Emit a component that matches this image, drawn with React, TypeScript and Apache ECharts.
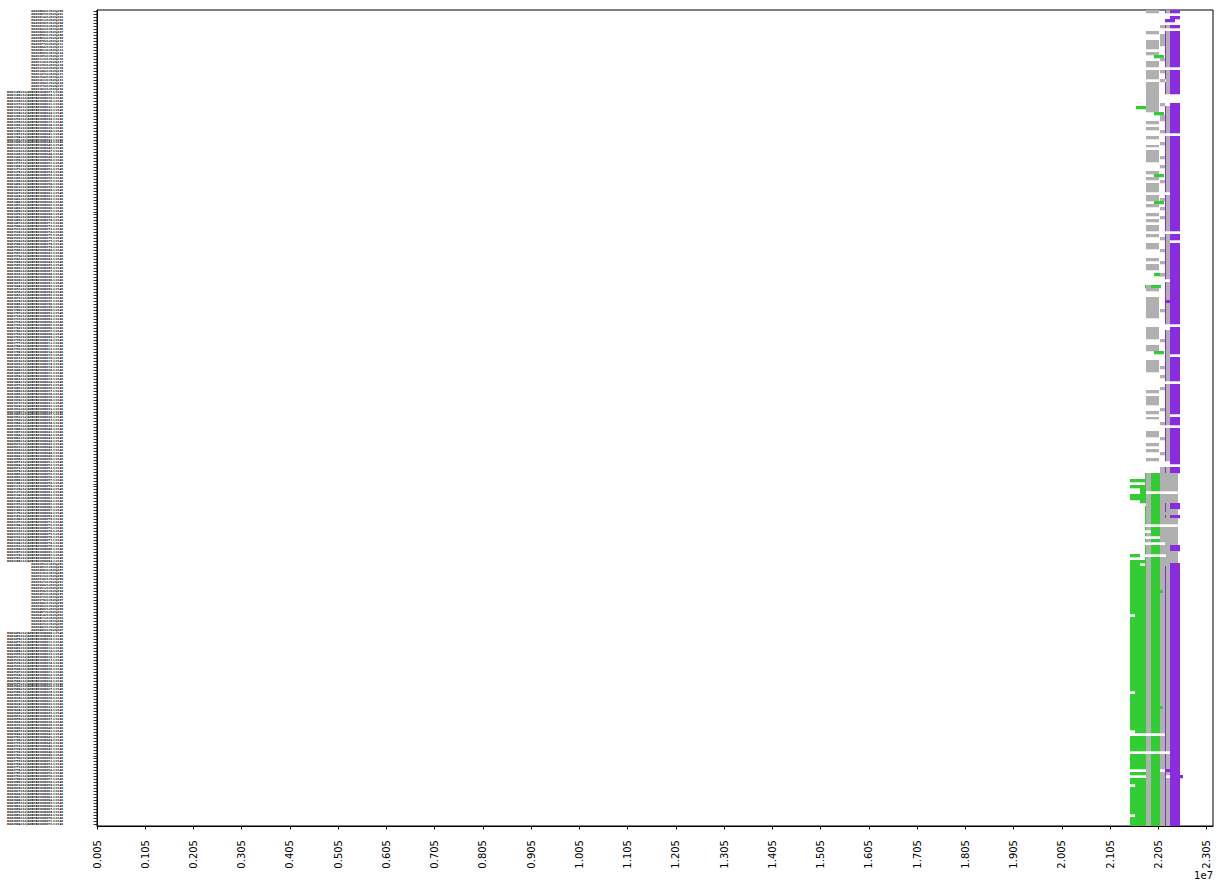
import React, { useEffect, useRef } from "react";
import * as echarts from "echarts";

// ---------------- data ----------------
const X_MIN = 50000;
const X_MAX = 23185000;
const X_TICKS = [
  50000, 1050000, 2050000, 3050000, 4050000, 5050000, 6050000, 7050000,
  8050000, 9050000, 10050000, 11050000, 12050000, 13050000, 14050000,
  15050000, 16050000, 17050000, 18050000, 19050000, 20050000, 21050000,
  22050000, 23050000,
];
const X_TICK_LABELS = [
  "0.005", "0.105", "0.205", "0.305", "0.405", "0.505", "0.605", "0.705",
  "0.805", "0.905", "1.005", "1.105", "1.205", "1.305", "1.405", "1.505",
  "1.605", "1.705", "1.805", "1.905", "2.005", "2.105", "2.205", "2.305",
];
const X_OFFSET_LABEL = "1e7";

// segment catalogue (genomic start / end, kind)
const SEGMENT_CODES = ["A", "B", "l", "c", "P", "G", "g", "H", "W", "x", "y", "Q", "R", "z", "n", "h", "k", "K", "V", "U", "o", "e"];
const SEGMENT_START = [21796000, 22086000, 22190000, 22211000, 22293000, 21464000, 21796000, 21899000, 22086000, 21961000, 21588000, 22190000, 22190000, 21775000, 21775000, 21671000, 21464000, 21568000, 22190000, 22211000, 22086000, 22293000];
const SEGMENT_END = [22065000, 22190000, 22211000, 22293000, 22501000, 21796000, 21899000, 22086000, 22459000, 22169000, 21796000, 22397000, 22501000, 22107000, 21796000, 21796000, 21671000, 21796000, 22459000, 22459000, 22148000, 22563000];
const SEGMENT_KIND = ["grey", "grey", "purple", "grey", "purple", "green", "grey", "green", "grey", "green", "green", "purple", "purple", "green", "green", "green", "green", "green", "grey", "grey", "green", "purple"];

// rows, top to bottom: [repeat count, segments present]
const TOP_ROWS: [number, string][] = [
  [1, "AlcP"], [1, ""], [1, "P"], [1, "Q"], [1, ""], [1, "BlcP"], [1, ""], [1, "AlcP"],
  [2, "BlcP"], [2, "ABlcP"], [1, "AlcP"], [1, "lcP"], [1, "AlcP"], [1, "xlcP"], [1, "BlcP"],
  [2, "AlcP"], [1, ""], [1, "ABlcP"], [2, "AlcP"], [1, "BcP"], [4, "AlcP"], [3, "A"], [1, "ABP"],
  [1, "AylcP"], [1, "AlcP"], [1, "xlcP"], [1, "BlcP"],
  // rows 36..
  [1, "BlcP"], [1, "AlcP"], [1, "lcP"], [1, "AlcP"], [1, "BlcP"], [1, ""], [1, "AlcP"], [1, "lcP"],
  [1, "BlcP"], [1, "AlcP"], [1, "lcP"], [2, "AlcP"], [1, "ABlcP"], [1, "AlcP"], [1, "lcP"],
  [1, "BlcP"], [1, "lcP"], [1, "AlcP"], [1, "xlcP"], [1, "AlcP"], [1, "BlcP"], [3, "AlcP"],
  [1, "P"], [1, "AlcP"], [1, "ABlcP"], [1, "xlcP"], [1, "AlcP"], [1, "BlcP"], [1, "lcP"],
  [1, "AlcP"], [1, "BlcP"], [1, "AlcP"], [1, "lcP"], [2, "AlcP"], [1, ""], [1, "AlcP"],
  [1, "BlcP"], [1, "lc"], [2, "AlcP"], [1, "BlcP"], [2, "lcP"], [1, "AlcP"], [1, "BlcP"],
  [2, "AlcP"], [1, "lcP"], [1, "xBlcP"], [1, "lcP"], [1, "P"], [1, "lcP"], [1, "zglcP"],
  [1, "AlcP"], [2, "lcP"], [1, "AlcP"], [1, "AR"], [2, "AlcP"], [1, "ABlcP"], [2, "AlcP"],
  [2, "lcP"], [1, ""], [1, "AP"], [3, "AlcP"], [1, "BlcP"], [1, "lcP"], [2, "AlcP"], [1, "xlcP"],
  [1, "lc"], [1, "lcP"], [2, "AlcP"], [1, "ABlcP"], [1, "AlcP"], [1, "lcP"], [1, "BlcP"],
  [1, "lcP"], [1, ""], [1, "lcP"], [1, "BlcP"], [1, "AlcP"], [1, "lcP"], [3, "AlcP"], [1, "lcP"],
  [1, "BlcP"], [1, "AlcP"], [1, "lc"], [1, "AlcP"], [1, "lcP"], [1, "BlcP"], [1, ""], [1, "lcP"],
  [2, "AlcP"], [1, "BlcP"], [1, "lcP"], [1, "AlcP"], [1, "lcP"], [1, "AlcP"], [1, "BlcP"],
  [1, "lcP"], [1, "AlcP"], [1, "P"], [1, ""], [2, "BlcP"],
];
const MIDDLE_ROWS: [number, string][] = [
  [2, "ngHW"], [1, "GgHW"], [1, "ngHW"], [1, "GgHW"], [1, "hgHW"], [1, "h"], [2, "GgHW"],
  [1, "hgHW"], [1, "gHWlP"], [1, "ngHWlP"], [1, "ngHWl"], [1, "ngHW"], [1, "ngHWlP"],
  [2, "ngHW"], [1, ""], [1, "ngHW"], [1, "HW"], [1, "ngHW"], [1, "W"], [1, "ngHW"], [1, "V"],
  [2, "ngHWP"], [1, "ngHW"], [1, "kU"], [1, "ngHW"], [1, "GgHW"], [1, "kngHWP"],
];
const BOTTOM_ROWS: [number, string][] = [
  [8, "GgHBlcP"], [1, "GgHBolcP"], [7, "GgHBlcP"], [1, "KgHBlcP"], [25, "GgHBlcP"],
  [1, "KgHBlcP"], [4, "GgHBlcP"], [1, "GgHBolcP"], [7, "GgHBlcP"], [1, "KgHBlcP"],
  [1, "lcP"], [5, "GgHBlcP"], [1, "P"], [5, "GgHBlcP"], [1, "gHR"], [1, "GgHBlcP"],
  [1, "gHBle"], [2, "GgHBlcP"], [1, "KgHBlcP"], [9, "GgHBlcP"], [1, "KgHBlcP"], [3, "GgHBlcP"],
];

// label groups: [first row, last row exclusive] that carry short names
const SHORT_LABEL_RANGES: [number, number][] = [[0, 27], [185, 208]];

// ---------------- styles ----------------
const COLORS: Record<string, string> = { green: "#32cd32", grey: "#b0b0b0", purple: "#8a2be2" };
const FONT = "DejaVu Sans";

function expandRows(): string[] {
  const out: string[] = [];
  for (const grp of [TOP_ROWS, MIDDLE_ROWS, BOTTOM_ROWS]) {
    for (const [n, codes] of grp) for (let i = 0; i < n; i++) out.push(codes);
  }
  return out;
}

function makeLabel(i: number): string {
  const isShort = SHORT_LABEL_RANGES.some(([a, b]) => i >= a && i < b);
  const id = String(1000 + i * 7).padStart(5, "0");
  const hap = 1 + (i % 2);
  if (isShort) return `HG${id}#${hap}#h${hap}tg${String(100 + i).padStart(3, "0")}`;
  return `HG${id}#${hap}#JAHBCB01${String(100 + i).padStart(6, "0")}.1:2146`;
}

export default function App() {
  const ref = useRef<HTMLDivElement>(null);
  useEffect(() => {
    if (!ref.current) return;
    const chart = echarts.init(ref.current, undefined, { renderer: "svg" });
    const rows = expandRows();
    const labels = rows.map((_, i) => makeLabel(i));
    const data: number[][] = [];
    rows.forEach((codes, r) => {
      for (const ch of codes) {
        const k = SEGMENT_CODES.indexOf(ch);
        if (k < 0) continue;
        data.push([r, SEGMENT_START[k], SEGMENT_END[k], k]);
      }
    });

    chart.setOption({
      animation: false,
      backgroundColor: "#fff",
      grid: {
        left: 97, right: 10, top: 10, bottom: 62,
        containLabel: false, outerBoundsMode: "none",
        show: true, borderColor: "#000", borderWidth: 1, backgroundColor: "transparent",
      },
      xAxis: {
        type: "value",
        min: X_MIN,
        max: X_MAX,
        splitLine: { show: false },
        axisLine: { show: true, lineStyle: { color: "#000", width: 1 } },
        axisTick: { show: true, customValues: X_TICKS, length: 3.5, lineStyle: { color: "#000", width: 1 } },
        axisLabel: {
          customValues: X_TICKS,
          rotate: 90,
          margin: 14,
          fontSize: 10,
          fontFamily: FONT,
          color: "#000",
          formatter: (v: number) => {
            const i = X_TICKS.indexOf(v);
            return i >= 0 ? X_TICK_LABELS[i] : "";
          },
        },
      },
      yAxis: {
        type: "category",
        data: labels,
        inverse: true,
        splitLine: { show: false },
        axisLine: { show: true, lineStyle: { color: "#000", width: 1 } },
        axisTick: { show: true, interval: 0, alignWithLabel: true, length: 3.5, lineStyle: { color: "#000", width: 0.8 } },
        axisLabel: {
          interval: 0, fontSize: 2.6, lineHeight: 2.9, fontWeight: "bold",
          fontFamily: FONT, color: "#000", margin: 34,
        },
      },
      graphic: [
        {
          type: "text",
          right: 10,
          top: 870,
          style: { text: X_OFFSET_LABEL, font: `10px "${FONT}"`, fill: "#000" },
        },
      ],
      series: [
        {
          type: "custom",
          clip: true,
          encode: { x: [1, 2], y: 0 },
          data,
          renderItem: (_params: any, api: any) => {
            const r = api.value(0);
            const s = api.coord([api.value(1), r]);
            const e = api.coord([api.value(2), r]);
            const h = api.size([0, 1])[1];
            const y0 = Math.round(s[1] - h / 2);
            const y1 = Math.round(s[1] + h / 2);
            return {
              type: "rect",
              shape: { x: s[0], y: y0, width: e[0] - s[0], height: y1 - y0 + 0.3 },
              style: { fill: COLORS[SEGMENT_KIND[api.value(3)]] },
            };
          },
        },
      ],
    });
    return () => chart.dispose();
  }, []);
  return (
    <div
      ref={ref}
      style={{ position: "absolute", left: 0, top: 0, width: 1223, height: 888, background: "#fff" }}
    />
  );
}
